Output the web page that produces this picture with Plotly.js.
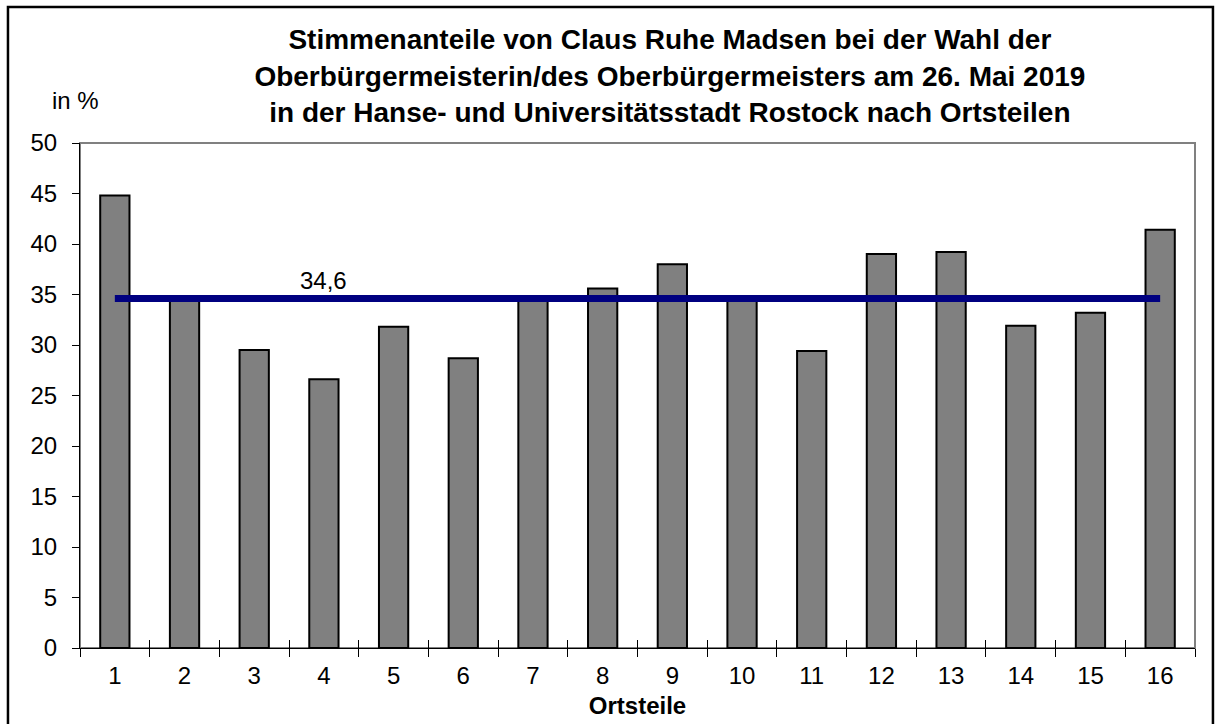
<!DOCTYPE html>
<html lang="de">
<head>
    <meta charset="UTF-8">
    <title>Stimmenanteile Claus Ruhe Madsen</title>
    <script src="https://cdn.plot.ly/plotly-3.0.0.min.js" charset="utf-8"></script>
    <style>
        body { margin: 0; padding: 0; background: #fff; }
        #plot { width: 1218px; height: 724px; }
    </style>
</head>
<body>
<div id="plot"></div>

<script>
    // Ortsteile 1..16
    const ortsteile = ['1', '2', '3', '4', '5', '6', '7', '8', '9', '10', '11', '12', '13', '14', '15', '16'];

    // Stimmenanteil in % je Ortsteil
    const anteile = [44.8, 34.4, 29.5, 26.6, 31.8, 28.7, 34.7, 35.6, 38.0, 34.4, 29.4, 39.0, 39.2, 31.9, 33.2, 41.4];

    // Gesamtergebnis der Stadt
    const gesamt = 34.6;
    const gesamtLabel = '34,6';
    const labelOrtsteil = '4';   // the 34,6 label sits above this Ortsteil

    const font = 'Arial, "Liberation Sans", sans-serif';

    const bars = {
        type: 'bar',
        x: ortsteile,
        y: anteile,
        width: 0.42,
        marker: {
            color: '#808080',
            line: { color: '#000000', width: 2 }
        },
        hoverinfo: 'x+y',
        showlegend: false
    };

    const avgLine = {
        type: 'scatter',
        mode: 'lines',
        x: ortsteile,
        y: ortsteile.map(() => gesamt),
        line: { color: '#000080', width: 7 },
        hoverinfo: 'y',
        showlegend: false
    };

    // helper trace so the overlay axis (inner tick marks) gets drawn
    const tickHelper = {
        type: 'scatter',
        mode: 'markers',
        x: ortsteile,
        y: ortsteile.map(() => 0),
        xaxis: 'x2',
        marker: { opacity: 0 },
        hoverinfo: 'skip',
        showlegend: false
    };

    const layout = {
        width: 1218,
        height: 724,
        margin: { l: 80, r: 23, t: 143, b: 76 },
        paper_bgcolor: '#ffffff',
        plot_bgcolor: '#ffffff',
        font: { family: font, color: '#000000', size: 24 },
        title: {
            text: 'Stimmenanteile von Claus Ruhe Madsen bei der Wahl der<br>' +
                  'Oberbürgermeisterin/des Oberbürgermeisters am 26. Mai 2019<br>' +
                  'in der Hanse- und Universitätsstadt Rostock nach Ortsteilen',
            font: { family: font, size: 28, color: '#000000', weight: 'bold' },
            xref: 'container',
            x: 0.55,
            xanchor: 'center',
            yref: 'container',
            y: 0.932,
            yanchor: 'top'
        },
        xaxis: {
            type: 'category',
            range: [-0.5, 15.5],
            showline: true,
            linecolor: '#000000',
            linewidth: 1,
            ticks: 'outside',
            tickson: 'boundaries',
            ticklen: 8,
            tickcolor: '#000000',
            showgrid: false,
            zeroline: false,
            tickfont: { size: 24 },
            ticklabelstandoff: 6,
            title: {
                text: '<b>Ortsteile</b>',
                font: { size: 24 },
                standoff: 9
            }
        },
        xaxis2: {
            type: 'category',
            overlaying: 'x',
            range: [-0.5, 15.5],
            anchor: 'y',
            side: 'bottom',
            showline: false,
            ticks: 'inside',
            tickson: 'boundaries',
            ticklen: 8,
            tickcolor: '#000000',
            showticklabels: false,
            showgrid: false,
            zeroline: false
        },
        yaxis: {
            range: [0, 50],
            dtick: 5,
            showline: true,
            linecolor: '#000000',
            linewidth: 1,
            ticks: 'outside',
            ticklen: 7,
            tickcolor: '#000000',
            showgrid: false,
            zeroline: false,
            tickfont: { size: 24 },
            ticklabelstandoff: 10
        },
        shapes: [
            // grey plot area frame (top and right side)
            {
                type: 'rect', xref: 'paper', yref: 'paper',
                x0: 0, x1: 1, y0: 0, y1: 1,
                line: { color: '#808080', width: 2 },
                layer: 'below'
            },
            // outer black frame around the whole chart
            {
                type: 'rect', xref: 'paper', yref: 'paper',
                x0: -0.0646, x1: 1.0161, y0: -0.2, y1: 1.2693,
                line: { color: '#000000', width: 2.5 },
                layer: 'below'
            }
        ],
        annotations: [
            {
                text: 'in %',
                xref: 'paper', yref: 'paper',
                x: -0.0036, y: 1.085,
                xanchor: 'center', yanchor: 'middle',
                showarrow: false,
                font: { size: 24 }
            },
            {
                text: gesamtLabel,
                xref: 'x', yref: 'y',
                x: ortsteile.indexOf(labelOrtsteil), y: gesamt,
                xanchor: 'center', yanchor: 'bottom',
                yshift: 3,
                showarrow: false,
                font: { size: 24 }
            }
        ],
        bargap: 0.58
    };

    Plotly.newPlot('plot', [bars, avgLine, tickHelper], layout, { displayModeBar: false, staticPlot: true });
</script>
</body>
</html>
